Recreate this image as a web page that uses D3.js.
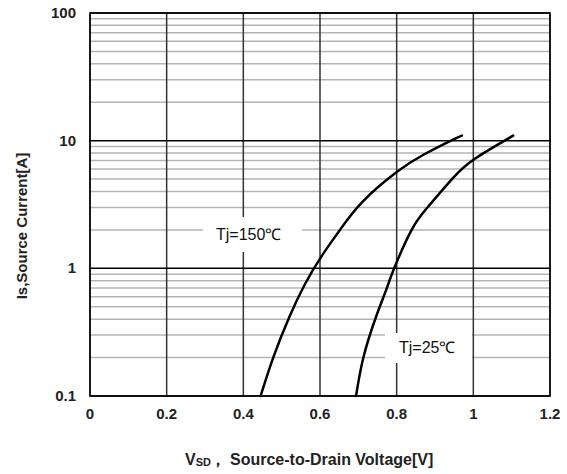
<!DOCTYPE html>
<html>
<head>
<meta charset="utf-8">
<script src="https://cdn.jsdelivr.net/npm/d3@7"></script>
<style>
  body { margin: 0; background: #fff; }
  text { font-family: Arial, "Liberation Sans", sans-serif; }
</style>
</head>
<body>
<div id="chart"></div>
<script>
// curve data: [V_SD, Is]
const tj150 = [
  [0.445, 0.1], [0.478, 0.2], [0.520, 0.416], [0.561, 0.754], [0.603, 1.23],
  [0.652, 2.0], [0.712, 3.35], [0.801, 5.7], [0.871, 7.79], [0.943, 10.06],
  [0.970, 10.97]
];
const tj25 = [
  [0.694, 0.1], [0.7135, 0.202], [0.746, 0.416], [0.772, 0.67], [0.7935, 1.0],
  [0.839, 2.0], [0.8825, 3.05], [0.946, 5.07], [1.005, 7.25], [1.104, 10.94]
];
const xTicks = [0, 0.2, 0.4, 0.6, 0.8, 1, 1.2];
const yTicks = [0.1, 1, 10, 100];

const width = 567, height = 474;
const plotLeft = 90, plotRight = 550, plotTop = 13, plotBottom = 396;

const svg = d3.select("#chart").append("svg")
  .attr("width", width)
  .attr("height", height);

const x = d3.scaleLinear().domain([0, 1.2]).range([plotLeft, plotRight]);
const y = d3.scaleLog().domain([0.1, 100]).range([plotBottom, plotTop]);

// minor horizontal grid (2..9 in each decade)
const minor = [];
[0.1, 1, 10].forEach(d => { for (let k = 2; k <= 9; k++) minor.push(d * k); });

svg.append("g")
  .selectAll("line")
  .data(minor)
  .join("line")
  .attr("x1", plotLeft).attr("x2", plotRight)
  .attr("y1", d => y(d)).attr("y2", d => y(d))
  .attr("stroke", "#b4b4b4")
  .attr("stroke-width", 1.5);

// vertical grid
svg.append("g")
  .selectAll("line")
  .data(xTicks)
  .join("line")
  .attr("x1", d => x(d)).attr("x2", d => x(d))
  .attr("y1", plotTop).attr("y2", plotBottom)
  .attr("stroke", "#333")
  .attr("stroke-width", 1.5);

// decade lines
svg.append("g")
  .selectAll("line")
  .data(yTicks)
  .join("line")
  .attr("x1", plotLeft).attr("x2", plotRight)
  .attr("y1", d => y(d)).attr("y2", d => y(d))
  .attr("stroke", "#000")
  .attr("stroke-width", 1.5);

// white boxes behind curve labels
svg.append("rect")
  .attr("x", 203).attr("y", 217).attr("width", 99).attr("height", 35)
  .attr("fill", "#fff");
svg.append("rect")
  .attr("x", 385).attr("y", 333).attr("width", 87).attr("height", 30)
  .attr("fill", "#fff");

// frame
svg.append("rect")
  .attr("x", plotLeft).attr("y", plotTop)
  .attr("width", plotRight - plotLeft).attr("height", plotBottom - plotTop)
  .attr("fill", "none")
  .attr("stroke", "#000")
  .attr("stroke-width", 1.5);

// curves
const line = d3.line()
  .x(d => x(d[0]))
  .y(d => y(d[1]))
  .curve(d3.curveNatural);

svg.append("g")
  .selectAll("path")
  .data([tj150, tj25])
  .join("path")
  .attr("d", line)
  .attr("fill", "none")
  .attr("stroke", "#000")
  .attr("stroke-width", 2.5)
  .attr("stroke-linecap", "round");

// curve labels
svg.append("text")
  .attr("x", 216).attr("y", 240)
  .style("font-size", "16px")
  .attr("fill", "#111")
  .text("Tj=150℃");
svg.append("text")
  .attr("x", 399).attr("y", 353)
  .style("font-size", "16px")
  .attr("fill", "#111")
  .text("Tj=25℃");

// tick labels
svg.append("g")
  .selectAll("text")
  .data(xTicks)
  .join("text")
  .attr("x", d => x(d))
  .attr("y", 419)
  .attr("text-anchor", "middle")
  .style("font-size", "15px")
  .style("font-weight", "bold")
  .attr("fill", "#222")
  .text(d => d);

svg.append("g")
  .selectAll("text")
  .data(yTicks)
  .join("text")
  .attr("x", 76)
  .attr("y", d => y(d) + 5)
  .attr("text-anchor", "end")
  .style("font-size", "15px")
  .style("font-weight", "bold")
  .attr("fill", "#222")
  .text(d => d);

// axis titles
const xt = svg.append("text")
  .attr("x", 185).attr("y", 465)
  .style("font-size", "16px")
  .style("font-weight", "bold")
  .attr("fill", "#222");
xt.append("tspan").text("V");
xt.append("tspan").attr("dy", 1).style("font-size", "11px").text("SD");
xt.append("tspan").attr("dy", -1).text("，").attr("dx", -1);
xt.append("tspan").attr("x", 230).text("Source-to-Drain  Voltage[V]");

svg.append("text")
  .attr("transform", "translate(27,226) rotate(-90)")
  .attr("text-anchor", "middle")
  .style("font-size", "15px")
  .style("font-weight", "bold")
  .attr("fill", "#222")
  .text("Is,Source Current[A]");
</script>
</body>
</html>
